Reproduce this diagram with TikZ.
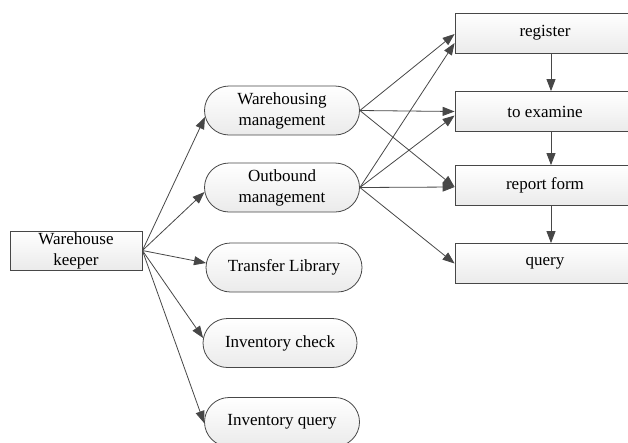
\documentclass[tikz,border=0pt]{standalone}
\usepackage{fontspec}
\setmainfont{Liberation Serif}
\usetikzlibrary{shapes.misc,arrows.meta}
\begin{document}
\begin{tikzpicture}[x=1pt,y=1pt,
  base/.style={draw=black!72, line width=0.8pt, top color=white, bottom color=black!8,
    align=center, font=\fontsize{17}{21}\selectfont, inner sep=0pt},
  rectbox/.style={base, rectangle},
  pill/.style={base, rounded rectangle, minimum width=155pt, minimum height=49pt},
  rbox/.style={base, rectangle, minimum width=180pt, minimum height=40pt},
  link/.style={draw=black!72, line width=0.8pt, -{Triangle[length=12pt,width=9pt]}}]
\useasboundingbox (0,0) rectangle (628,-442);
% left box
\node[rectbox, minimum width=132pt, minimum height=39pt] (k) at (76,-250.5) {Warehouse\\keeper};
% middle pills
\node[pill] (wh) at (282,-110.5) {Warehousing\\management};
\node[pill] (ob) at (282,-187.5) {Outbound\\management};
\node[pill, minimum width=156pt] (tr) at (284,-267.5) {Transfer Library};
\node[pill, minimum width=154pt] (ic) at (280,-343) {Inventory check};
\node[pill] (iq) at (282,-422) {Inventory query};
% right boxes
\node[rbox] (reg) at (545,-33) {register};
\node[rbox] (exa) at (545,-111.5) {to examine};
\node[rbox] (rep) at (545,-185.5) {report form};
\node[rbox] (qry) at (545,-263.5) {query};
% keeper to pills
\draw[link] (k.east) -- ([xshift=0.9pt,yshift=-6.5pt]wh.west);
\draw[link] (k.east) -- ([xshift=0.4pt,yshift=-4.5pt]ob.west);
\draw[link] (k.east) -- ([xshift=0.4pt,yshift=4.5pt]tr.west);
\draw[link] (k.east) -- ([xshift=0.5pt,yshift=5pt]ic.west);
\draw[link] (k.east) -- ([yshift=-1pt]iq.west);
% pills to right boxes
\draw[link] (wh.east) -- ([yshift=-1pt]reg.west);
\draw[link] (wh.east) -- (exa.west);
\draw[link] (wh.east) -- ([yshift=-1.5pt]rep.west);
\draw[link] (ob.east) -- ([yshift=-10pt]reg.west);
\draw[link] (ob.east) -- ([yshift=-4pt]exa.west);
\draw[link] (ob.east) -- ([yshift=-1.5pt]rep.west);
\draw[link] (ob.east) -- (qry.west);
% vertical chain
\draw[link] ([xshift=6pt]reg.south) -- ([xshift=6pt]exa.north);
\draw[link] ([xshift=6pt]exa.south) -- ([xshift=6pt]rep.north);
\draw[link] ([xshift=6pt]rep.south) -- ([xshift=6pt]qry.north);
\end{tikzpicture}
\end{document}
